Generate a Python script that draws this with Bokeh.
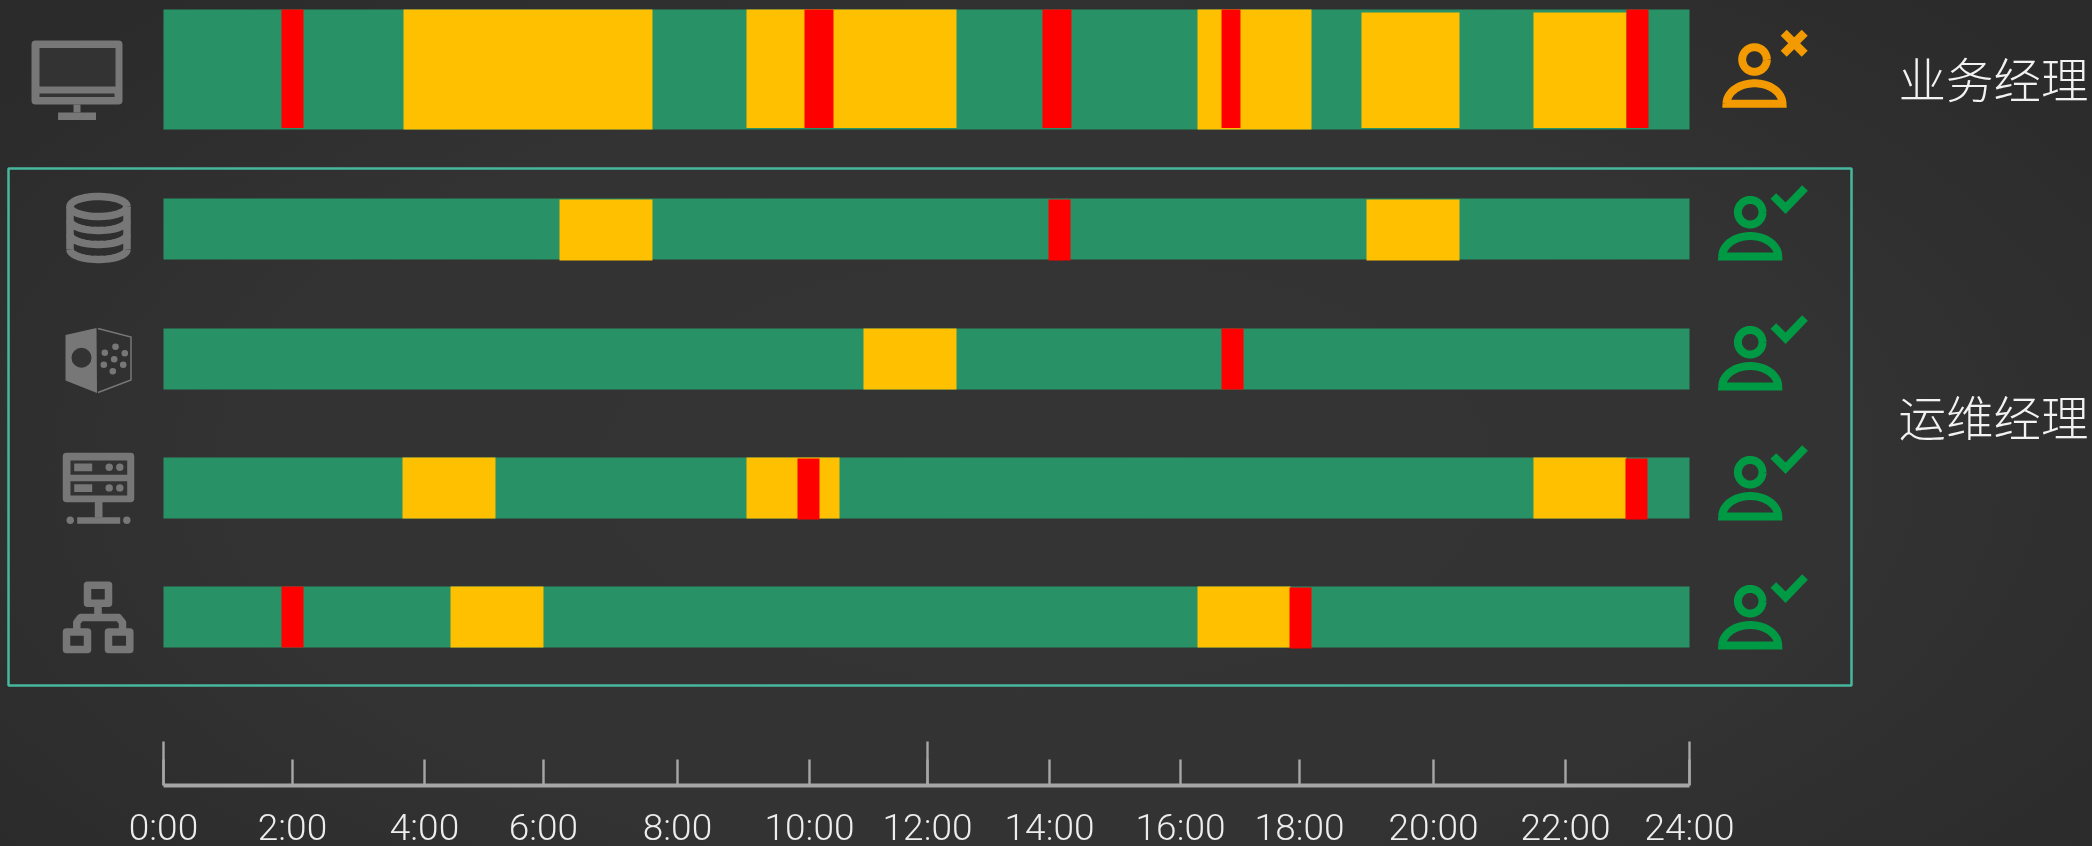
from bokeh.plotting import figure
from bokeh.models import Range1d, FixedTicker
from bokeh.embed import file_html
from bokeh.resources import INLINE
from bokeh.core.properties import value
import numpy as np

# ---- data: hours of the day ----
tick_hours = [0, 2.029, 4.105, 5.976, 8.084, 10.16, 12.016, 13.935, 15.995, 17.867, 19.974, 22.05, 24]
tick_labels = ["0:00", "2:00", "4:00", "6:00", "8:00", "10:00", "12:00", "14:00", "16:00", "18:00", "20:00", "22:00", "24:00"]
long_ticks = [0, 12.016, 24]

row1_yellow = [(3.775, 7.69), (9.169, 12.472), (16.262, 18.055), (18.841, 20.383), (21.546, 23.009)]
row1_red = [(1.856, 2.202), (10.081, 10.537), (13.824, 14.28), (16.64, 16.938), (23.009, 23.355)]
row2_yellow = [(6.228, 7.69), (18.92, 20.383)]
row2_red = [(13.919, 14.265)]
row3_yellow = [(11.009, 12.472)]
row3_red = [(16.64, 16.986)]
row4_yellow = [(3.759, 5.221), (9.169, 10.632), (21.546, 23.009)]
row4_red = [(9.971, 10.317), (22.993, 23.339)]
row5_yellow = [(4.514, 5.976), (16.262, 17.725)]
row5_red = [(1.856, 2.202), (17.709, 18.055)]
label_top = "业务经理"
label_bottom = "运维经理"

GREEN, YELLOW, RED = "#299166", "#FFC000", "#FF0000"
GREY, BOX, AXIS = "#777777", "#47B89E", "#A6A6A6"
ORANGE, OKGREEN = "#F29A00", "#009A44"
BG = "#333333"
W, H = 2092, 855
PX_PER_HOUR = 1526 / 24
X0 = 163

p = figure(width=W, height=H, output_backend="svg", toolbar_location=None,
           x_range=Range1d(-X0 / PX_PER_HOUR, (W - X0) / PX_PER_HOUR),
           y_range=Range1d(785, 0), y_axis_location=None, x_axis_location="below",
           min_border=0, min_border_bottom=70, min_border_left=0, min_border_right=0, min_border_top=0,
           background_fill_alpha=0, border_fill_alpha=0, outline_line_color=None,
           styles={"position": "fixed", "left": "0", "top": "0",
                   "background": "radial-gradient(ellipse 62% 75% at 50% 55%, #343434 0%, #333333 60%, #2b2b2b 100%)"})
p.grid.visible = False
p.extra_x_ranges = {"px": Range1d(0, W)}


def spans(items, top, bottom, color):
    p.quad(left=[a for a, _ in items], right=[b for _, b in items],
           top=top, bottom=bottom, fill_color=color, line_color=None)


# rows: full-day bar, then the incidents
spans([(0, 24)], 9, 129, GREEN)
spans(row1_yellow[:1] + row1_yellow[2:3], 9, 129, YELLOW)
spans(row1_yellow[1:2], 9, 127.5, YELLOW)
spans(row1_yellow[3:], 12, 127.5, YELLOW)
spans(row1_red, 9, 127.5, RED)

spans([(0, 24)], 198, 259, GREEN)
spans(row2_yellow, 199, 260, YELLOW)
spans(row2_red, 199, 260, RED)

spans([(0, 24)], 328, 389, GREEN)
spans(row3_yellow, 328, 389, YELLOW)
spans(row3_red, 328, 389, RED)

spans([(0, 24)], 457, 518, GREEN)
spans(row4_yellow, 457, 518, YELLOW)
spans(row4_red, 458, 519, RED)

spans([(0, 24)], 586, 647, GREEN)
spans(row5_yellow, 586, 647, YELLOW)
spans(row5_red[:1], 586, 647, RED)
spans(row5_red[1:], 587, 648, RED)

# frame round the operations rows
kw = dict(x_range_name="px")
p.quad(left=8, right=1851, top=168, bottom=685, fill_alpha=0, line_color=BOX, line_width=2.5, **kw)

# time axis
ax = p.xaxis[0]
ax.ticker = FixedTicker(ticks=tick_hours)
ax.major_label_overrides = dict(zip(tick_hours, tick_labels))
ax.bounds = (0, 24)
ax.axis_line_color = AXIS
ax.axis_line_width = 4
ax.major_tick_line_color = AXIS
ax.major_tick_line_width = 2.4
ax.major_tick_in = 26
ax.major_tick_out = 0
ax.minor_tick_line_color = None
ax.major_label_text_font = "Roboto Light"
ax.major_label_text_font_size = "37px"
ax.major_label_text_color = "#EDEDED"
ax.major_label_standoff = 20
p.segment(x0=long_ticks, x1=long_ticks, y0=741, y1=785, line_color=AXIS, line_width=2.4)


# ---- icons ----
def box(l, t, r, b, color=GREY):
    p.quad(left=l, right=r, top=t, bottom=b, fill_color=color, line_color=None, **kw)


def outline(xs, ys, w, color=GREY, join="round"):
    p.line(xs, ys, line_color=color, line_width=w, line_join=join, **kw)


def rect_outline(l, t, r, b, w, color=GREY):
    outline([l, r, r, l, l, r], [t, t, b, b, t, t], w, color)


def dots(xs, ys, r, color=GREY):
    p.circle(x=xs, y=ys, radius=r, radius_units="screen", fill_color=color, line_color=None, **kw)


# monitor
p.patch([35, 118, 118, 35], [44, 44, 100, 100], fill_color=GREY, line_color=GREY,
        line_width=8, line_join="round", **kw)
box(39, 47.5, 115, 86, BG)
box(39, 93, 114, 96.5, BG)
box(73, 104, 80, 112)
box(57.6, 112, 95.5, 119.5)

# database
t = np.linspace(0, 2 * np.pi, 60)
outline(98 + 28.5 * np.cos(t), 206 + 10 * np.sin(t), 7.5)
t2 = np.linspace(0, np.pi, 30)
for cy in (220, 234, 249):
    outline(98 + 28.5 * np.cos(t2), cy + 10 * np.sin(t2), 7.5)
outline([69.5, 69.5], [206, 249], 7.5)
outline([126.5, 126.5], [206, 249], 7.5)

# storage cube
p.patch([65, 96, 96.5, 65], [334.5, 327.5, 392.5, 380], fill_color=GREY, line_color=None, **kw)
outline([97.5, 130.5, 130.5, 97.5], [328, 336.5, 379.5, 392], 1.5, join="miter")
dots([81], [357.3], 10, BG)
dots([115, 104.3, 124.3, 113.7, 103.3, 122.7, 112.3],
     [346.3, 352.3, 352.7, 358.7, 364.3, 364.3, 370.7], 3.3)

# server
p.patch([66, 130, 130, 66], [456, 456, 498, 498], fill_color=GREY, line_color=GREY,
        line_width=7.5, line_join="round", **kw)
for top in (460, 480.7):
    box(70, top, 126.7, top + 14.3, BG)
    box(73.7, top + 3, 91.7, top + 10.7)
    dots([108.7, 119.3], [top + 6.7, top + 6.7], 3.7)
box(94.3, 501, 102, 517)
box(76.7, 516.7, 119.7, 523.3)
dots([69.7, 126.3], [519.7, 519.7], 3.7)

# hierarchy
rect_outline(87, 584.8, 108, 602.8, 7.5)
rect_outline(66, 631.5, 87, 649, 7.5)
rect_outline(108, 631.5, 129.3, 649, 7.5)
box(93.7, 606, 101.3, 616)
outline([76.3, 76.3, 80, 118, 122, 122], [630, 622, 617, 617, 622, 630], 7.5)


def person(cx, cy, color, cross):
    t = np.linspace(0, 2 * np.pi, 60)
    outline(cx + 12.3 * np.cos(t), cy + 12.3 * np.sin(t), 8, color)
    base = cy + 44.3
    t2 = np.linspace(np.pi, 2 * np.pi, 40)
    xs = np.r_[cx + 28 * np.cos(t2), cx - 28]
    ys = np.r_[base + 20.5 * np.sin(t2), base]
    p.line(np.r_[xs, xs[:2]], np.r_[ys, ys[:2]], line_color=color, line_width=8, line_join="miter", **kw)
    if cross:
        p.segment([cx + 29.2, cx + 29.2], [cy - 26.7, cy - 5.7], [cx + 50.2, cx + 50.2], [cy - 5.7, cy - 26.7],
                  line_color=color, line_width=8.5, **kw)
    else:
        p.line([cx + 23.1, cx + 35.3, cx + 54.8], [cy - 16.2, cy - 4, cy - 24.2],
               line_color=color, line_width=8, line_join="miter", **kw)


person(1754, 59, ORANGE, True)
for cy in (211.7, 341.7, 471.7, 600.7):
    person(1749.7, cy, OKGREEN, False)

# role labels
p.text(x=[1898, 1898], y=[77, 414.5], text=[label_top, label_bottom], text_color="#F2F2F2",
       text_font=value("Noto Sans CJK SC Light"), text_font_size="47.5px",
       text_align="left", text_baseline="middle", **kw)

open("out.html", "w").write(file_html(p, INLINE))
